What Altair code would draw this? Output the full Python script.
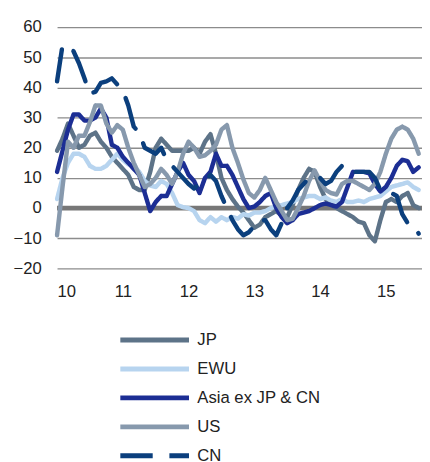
import altair as alt
import pandas as pd

SERIES = ["JP", "EWU", "Asia ex JP & CN", "US", "CN"]
COLORS = ["#5d7388", "#b7d4ef", "#1c2e94", "#8799ad", "#0b3f7d"]
DASHES = [[1, 0], [1, 0], [1, 0], [1, 0], [33, 17]]
X_TICKS = [10, 11, 12, 13, 14, 15]
Y_TICKS = [-20, -10, 0, 10, 20, 30, 40, 50, 60]

# monthly values, Jan 2010 .. Jul 2015
JP = [19, 23, 28, 24, 20, 21, 24, 25, 22, 20,
      17, 15, 13, 11, 7, 6, 6, 12, 20, 23,
      21, 19, 19, 19, 19, 20, 18, 22, 24.5, 18,
      10, 6, 3, 0.5, -1.5, -4, -6.5, -5.5, -3, -2,
      -1, -2.5, -3, 1, 6, 10, 13, 12, 7, 3,
      1, 0, -1, -2, -3, -4.5, -5, -9, -11, -4,
      2, 3, 2, 4, 5, 1, 0]
EWU = [3, 10, 15, 18, 18, 17, 14, 13, 13, 14,
       16, 18, 16, 14.5, 14, 12, 9, 7.5, 7, 9,
       8, 5, 1, 0.3, 0, -1, -4, -5, -3, -4.5,
       -3, -4, -3, -3.5, -2, -2.5, -1.5, -1.5, -1, 0,
       0.5, 1, 1.5, 2, 3, 3.5, 4, 4, 3, 3.5,
       2.5, 2, 3, 2, 2, 2.5, 2, 3, 3.5, 4,
       5.5, 7, 7.5, 8, 8.5, 7, 6]
ASIA = [12, 19, 26, 31, 31, 29, 29, 30, 33, 30,
        21, 20, 17, 15, 13, 11, 5, -1, 2, 4,
        4, 8, 12, 15, 11, 9, 5, 10, 12, 18,
        14, 14, 11, 7, 3, 0, 0.5, 2, 4, 5,
        0, -3, -5, -4, -2, -1.5, -1, 0, 1, 1.5,
        1, 0.5, 2, 7, 12, 12, 12, 11.5, 8, 5.5,
        7, 10, 14, 16, 15.5, 12, 13.5]
US = [-9, 7, 22, 20, 24, 24, 28.5, 34, 34, 28,
      25, 27.5, 26, 20, 15, 11, 7, 8, 10, 13,
      11, 8, 12, 18, 22, 20, 17, 17.5, 19, 21,
      26, 27.5, 20, 15, 9.5, 5, 3.5, 6, 10, 6,
      2, -1, -4, -3.5, 0, 4, 9, 12.5, 9, 6,
      5, 4.5, 8, 9, 9, 8, 7, 6, 8, 12,
      18, 23, 26, 27, 26, 23, 18]
CN = [42, 54, 53, 52, 48, 43, 38, 38.5, 41.5, 42,
      43, 41, 39, 34, 27, 25, 20, 19, 18, 20,
      16, 14, 12, 10, 8, 6.5, 8, 9, 11, 9,
      4, 0, -4, -7, -9, -8, -6, -4, -4, -7,
      -9, -5, 0, 2.5, 6, 8, 10, 10, 10, 8,
      9, 12, 14, 12, 12, 12, 12, 12, 10, 6,
      6, 5, 4, -2, -5, -5.5, -8.5]
ZERO = [0]

rows = []
for name, vals in zip(SERIES, [JP, EWU, ASIA, US, CN]):
    for i, v in enumerate(vals):
        rows.append({"series": name, "t": 10 + i / 12, "v": v})
df = pd.DataFrame(rows)

FONT = "Liberation Sans"

legend = alt.Legend(
    title=None, orient="none", legendX=62, legendY=307,
    symbolType="stroke", symbolSize=4900, symbolStrokeWidth=5,
    labelFontSize=17, labelFont=FONT, labelColor="#222", labelOffset=6,
    clipHeight=24, rowPadding=5.5, padding=0,
)

x_enc = alt.X(
    "t:Q",
    scale=alt.Scale(domain=[10, 15.55], nice=False, zero=False),
    axis=alt.Axis(values=X_TICKS, format="d", title=None, grid=False, ticks=False,
                  domain=False, labelPadding=16, labelFontSize=17, labelFont=FONT,
                  labelColor="#222"),
)
y_axis = alt.Axis(values=Y_TICKS, title=None, grid=True, gridColor="#8c8c8c",
                  gridWidth=1.3, ticks=False, domain=False, labelPadding=16,
                  labelFontSize=17, labelFont=FONT, labelColor="#222",
                  labelOverlap=False)
y_scale = alt.Scale(domain=[-20, 60], nice=False, zero=False)

zero = alt.Chart(pd.DataFrame({"v": ZERO})).mark_rule(color="#777777", strokeWidth=5).encode(
    y=alt.Y("v:Q", scale=y_scale, axis=y_axis)
)

lines = alt.Chart(df).mark_line(strokeWidth=4.5, strokeCap="round", strokeJoin="round").encode(
    x=x_enc,
    y=alt.Y("v:Q", scale=y_scale, axis=y_axis),
    color=alt.Color("series:N", scale=alt.Scale(domain=SERIES, range=COLORS), legend=legend),
    strokeDash=alt.StrokeDash("series:N", scale=alt.Scale(domain=SERIES, range=DASHES), legend=legend),
)

chart = alt.layer(zero, lines).properties(
    width=372, height=246,
    autosize=alt.AutoSizeParams(type="none"),
    padding={"left": 50, "top": 15, "right": 0, "bottom": 200},
).configure_view(stroke=None)

chart.save("out.html", embed_options={"renderer": "svg", "actions": False})
